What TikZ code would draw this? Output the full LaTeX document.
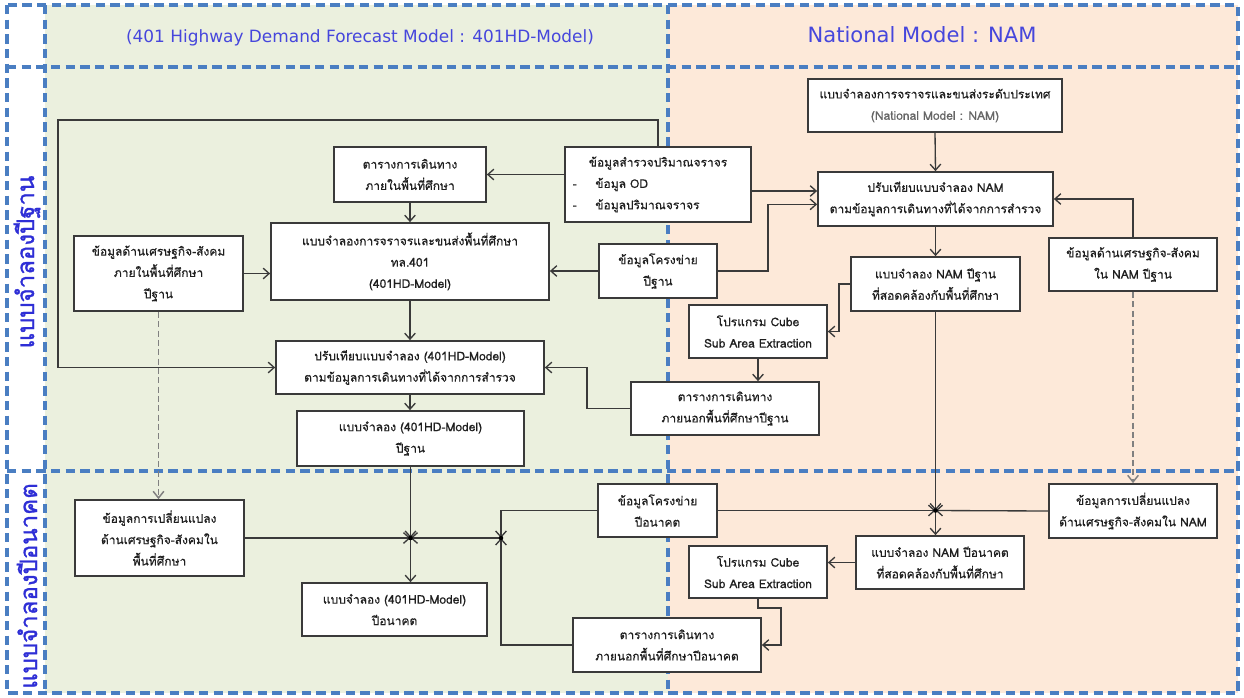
\documentclass[tikz,border=0pt]{standalone}
\usepackage{fontspec}
\newfontfamily\thai[Script=Thai,FakeBold=0.5]{Loma}
\newfontfamily\thaiside[Script=Thai,FakeBold=1.2]{Loma}
\newfontfamily\lat{DejaVu Sans}
\usetikzlibrary{arrows.meta,calc,shadows}
\definecolor{grn}{HTML}{EBF0DE}
\definecolor{pch}{HTML}{FDE9D9}
\definecolor{frm}{HTML}{4A7EC2}
\definecolor{ttl}{HTML}{4646DC}
\definecolor{sdl}{HTML}{2E2ED6}
\definecolor{lnc}{HTML}{3A3A3A}
\newcommand\bxx[6]{%
 \pgfmathsetmacro\bw{(#4-#2)*0.75}%
 \pgfmathsetmacro\bh{(#5-#3)*0.75}%
 \node[box, minimum width=\bw pt, minimum height=\bh pt] (#1) at ({(#2+#4)/2},{(#3+#5)/2}) {#6};}
\begin{document}
\begin{tikzpicture}[x=0.75pt,y=-0.75pt,
 box/.style={draw=lnc, line width=1.3pt, fill=white, align=center, inner sep=1pt,
   font=\thai\fontsize{9}{16}\selectfont, text=black!88,
   drop shadow={shadow xshift=1pt, shadow yshift=-1pt, opacity=0.3}},
 arr/.style={draw=lnc, line width=1pt, -{Straight Barb[length=4.5pt,width=8pt]}},
 darr/.style={draw=gray, line width=1.1pt, dash pattern=on 4.5pt off 2.5pt, -{Straight Barb[length=5pt,width=8pt]}},
 frame/.style={draw=frm, line width=2.6pt, dash pattern=on 7pt off 4pt},
]
\useasboundingbox (0,0) rectangle (1244,697);
\fill[white] (0,0) rectangle (1244,697);
\fill[grn] (45,5) rectangle (668,693);
\fill[pch] (668,5) rectangle (1238,693);
\draw[frame] (7,5) rectangle (1238,693);
\draw[frame] (45,5) -- (45,693);
\draw[frame] (668,5) -- (668,693);
\draw[frame] (7,67) -- (1238,67);
\draw[frame] (7,471) -- (1238,471);

\node[font=\lat\fontsize{12.7}{14}\selectfont, text=ttl] (h1) at (360,38) {(401 Highway Demand Forecast Model : 401HD-Model)};
\node[font=\lat\fontsize{15.8}{18}\selectfont, text=ttl] (h2) at (922,35) {National Model : NAM};
\node[rotate=90, font=\thaiside\fontsize{18}{20}\selectfont, text=sdl] (s1) at (27,262) {แบบจำลองปีฐาน};
\node[rotate=90, font=\thaiside\fontsize{18}{20}\selectfont, text=sdl] (s2) at (27,586) {แบบจำลองปีอนาคต};

\bxx{nam}{808}{79}{1062}{132}{แบบจำลองการจราจรและขนส่งระดับประเทศ\\\textcolor{black!60}{(National Model : NAM)}}
\bxx{calNAM}{818}{172}{1053}{226}{ปรับเทียบแบบจำลอง NAM\\ตามข้อมูลการเดินทางที่ได้จากการสำรวจ}
\bxx{econNAM}{1049}{238}{1217}{291}{ข้อมูลด้านเศรษฐกิจ-สังคม\\ใน NAM ปีฐาน}
\bxx{namB}{851}{257}{1020}{311}{แบบจำลอง NAM ปีฐาน\\ที่สอดคล้องกับพื้นที่ศึกษา}
\bxx{cubeB}{689}{305}{827}{358}{โปรแกรม Cube\\Sub Area Extraction}
\bxx{tripextB}{631}{382}{819}{435}{ตารางการเดินทาง\\ภายนอกพื้นที่ศึกษาปีฐาน}
\node[box, minimum width=139.5pt, minimum height=56.25pt, text width=128pt, align=left] (survey) at (658,184.5)
 {\makebox[128pt]{ข้อมูลสำรวจปริมาณจราจร}\\\makebox[17pt][l]{-}ข้อมูล OD\\\makebox[17pt][l]{-}ข้อมูลปริมาณจราจร};
\bxx{netB}{599}{244}{717}{298}{ข้อมูลโครงข่าย\\ปีฐาน}
\bxx{tripin}{334}{147}{486}{202}{ตารางการเดินทาง\\ภายในพื้นที่ศึกษา}
\bxx{model401}{271}{223}{549}{300}{แบบจำลองการจราจรและขนส่งพื้นที่ศึกษา\\ทล.401\\(401HD-Model)}
\bxx{econ401}{74}{236}{243}{311}{ข้อมูลด้านเศรษฐกิจ-สังคม\\ภายในพื้นที่ศึกษา\\ปีฐาน}
\bxx{cal401}{276}{341}{544}{394}{ปรับเทียบแบบจำลอง (401HD-Model)\\ตามข้อมูลการเดินทางที่ได้จากการสำรวจ}
\bxx{base401}{297}{411}{524}{466}{แบบจำลอง (401HD-Model)\\ปีฐาน}
\bxx{chg401}{75}{500}{244}{576}{ข้อมูลการเปลี่ยนแปลง\\ด้านเศรษฐกิจ-สังคมใน\\พื้นที่ศึกษา}
\bxx{fut401}{302}{583}{487}{636}{แบบจำลอง (401HD-Model)\\ปีอนาคต}
\bxx{netF}{598}{484}{717}{537}{ข้อมูลโครงข่าย\\ปีอนาคต}
\bxx{cubeF}{689}{546}{827}{598}{โปรแกรม Cube\\Sub Area Extraction}
\bxx{tripextF}{573}{618}{761}{672}{ตารางการเดินทาง\\ภายนอกพื้นที่ศึกษาปีอนาคต}
\bxx{namF}{856}{536}{1024}{589}{แบบจำลอง NAM ปีอนาคต\\ที่สอดคล้องกับพื้นที่ศึกษา}
\bxx{chgNAM}{1049}{484}{1217}{538}{ข้อมูลการเปลี่ยนแปลง\\ด้านเศรษฐกิจ-สังคมใน NAM}

% base year connectors
\coordinate (lp) at (58,120);
\draw[arr] (survey.north) |- (lp) |- (cal401.west);
\draw[arr] (survey.west |- tripin.east) -- (tripin.east);
\coordinate (cA) at ([yshift=6pt]calNAM.west);
\coordinate (cB) at ([yshift=-4pt]calNAM.west);
\draw[arr] (survey.east |- cA) -- (cA);
\coordinate (xa) at (768,0);
\draw[arr] (netB.east) -- (netB.east -| xa) |- (cB);
\draw[arr] (netB.west) -- (netB.west -| model401.east);
\draw[arr] (econ401.east) -- (econ401.east -| model401.west);
\draw[arr] (tripin.south) -- (tripin.south |- model401.north);
\draw[arr] (model401.south) -- (model401.south |- cal401.north);
\draw[arr] (cal401.south) -- (cal401.south |- base401.north);
\coordinate (xb) at (587,0);
\draw[arr] (tripextB.west) -- (tripextB.west -| xb) |- (cal401.east);
\draw[arr] (cubeB.south) -- (cubeB.south |- tripextB.north);
\coordinate (xc) at (839,0);
\draw[arr] (namB.west) -- (namB.west -| xc) |- (cubeB.east);
\draw[arr] (nam.south) -- (calNAM.north);
\draw[arr] (calNAM.south) -- (namB.north);
\draw[arr] (econNAM.north) |- (calNAM.east);
\draw[darr] (econNAM.south) -- (chgNAM.north);
\draw[darr] (econ401.south) -- (econ401.south |- chg401.north);

% future connectors
\coordinate (J1) at (base401.south |- chg401.east);
\coordinate (xj) at (501,0);
\coordinate (J2) at (J1 -| xj);
\coordinate (J3) at (namB.south |- netF.east);
\draw[arr] (base401.south) -- (J1);
\draw[arr] (J1) -- (J1 |- fut401.north);
\draw[arr] (chg401.east) -- (J1);
\draw[arr] (J2) -- (J1);
\draw[arr] (netF.west) -| (J2);
\draw[arr] (tripextF.west) -| (J2);
\draw[arr] (namB.south) -- (J3);
\draw[arr] (netF.east) -- (J3);
\draw[arr] (chgNAM.west) -- (J3);
\draw[arr] (J3) -- (J3 |- namF.north);
\draw[arr] (namF.west) -- (namF.west -| cubeF.east);
\coordinate (xd) at (781,0);
\draw[arr] (cubeF.south) -- ++(0,9) -| (tripextF.east -| xd) -- (tripextF.east);
\fill[black] (J1) circle (1.7pt);
\fill[black] (J2) circle (1.7pt);
\fill[black] (J3) circle (1.7pt);
\end{tikzpicture}
\end{document}
